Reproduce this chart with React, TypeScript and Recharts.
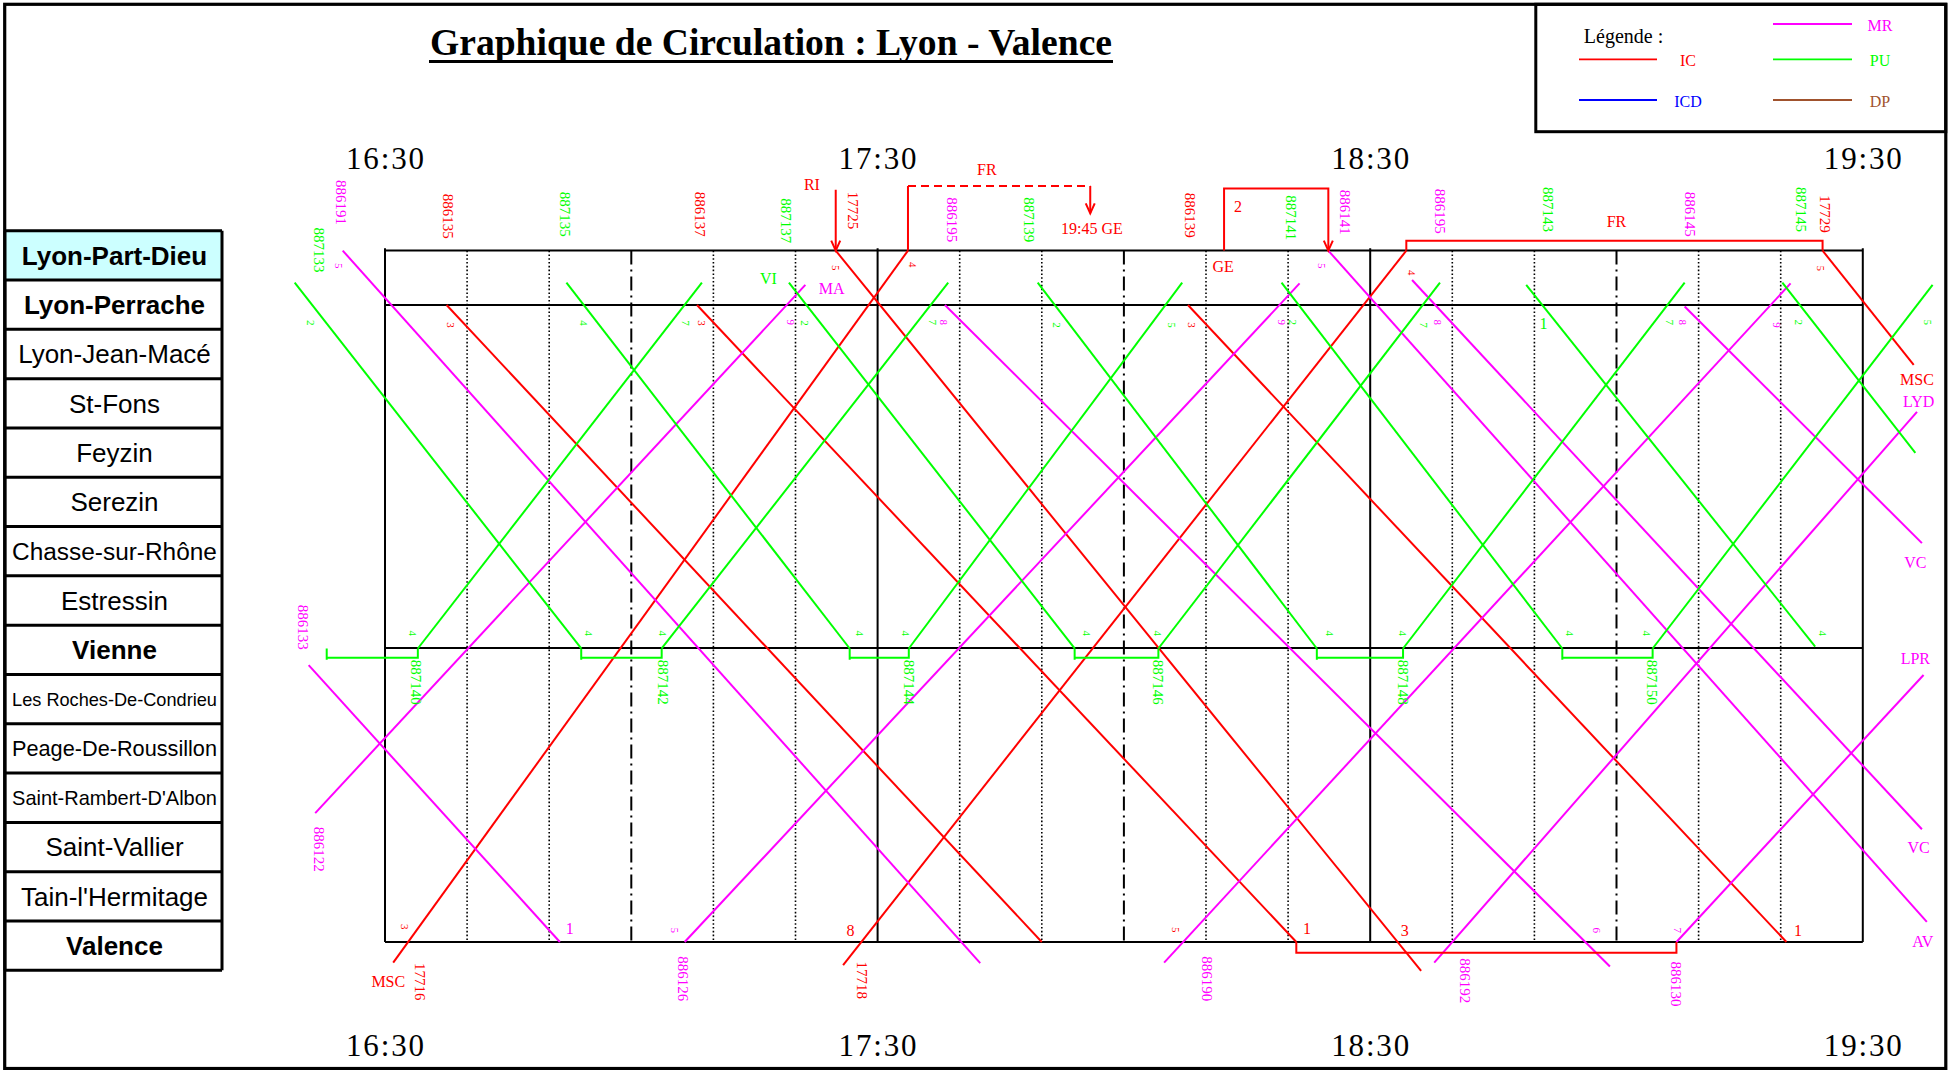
import React from 'react';
import { ComposedChart, Line, XAxis, YAxis, ReferenceLine, ReferenceDot } from 'recharts';

const W = 1952;
const H = 1070;

// ---------- stations ----------
const STATIONS = [
  'Lyon-Part-Dieu', 'Lyon-Perrache', 'Lyon-Jean-Macé', 'St-Fons', 'Feyzin', 'Serezin',
  'Chasse-sur-Rhône', 'Estressin', 'Vienne', 'Les Roches-De-Condrieu', 'Peage-De-Roussillon',
  "Saint-Rambert-D'Albon", 'Saint-Vallier', "Tain-l'Hermitage", 'Valence',
];
const MAIN_STATIONS = ['Lyon-Part-Dieu', 'Lyon-Perrache', 'Vienne', 'Valence'];
const STATION_POS = [-0.11, 1, 2, 3, 4, 5, 6, 7, 8, 9, 10, 11, 12, 13, 14];

// ---------- time axis (minutes since midnight) ----------
const T_START = 990; // 16:30
const T_END = 1170; // 19:30
const TIME_TICKS = [990, 1050, 1110, 1170];
const TIME_LABELS = ['16:30', '17:30', '18:30', '19:30'];
const GRID_DOTTED = [1000, 1010, 1030, 1040, 1060, 1070, 1090, 1100, 1120, 1130, 1150, 1160];
const GRID_HOURS = [1020, 1080, 1140];
const GRID_HALF = [1050, 1110];

// ---------- trains: [time, position] ----------
const IC_TRAINS: { num: string; path: number[][] }[] = [
  { num: '886135', path: [[997.5, 1], [1070.0, 14]] },
  { num: '886137', path: [[1028.0, 1], [1101.0, 14]] },
  { num: '17725', path: [[1044.9, -0.11], [1116.2, 14.59]] },
  { num: '886139', path: [[1087.8, 1], [1160.7, 14]] },
  { num: '17729', path: [[1165.1, -0.11], [1176.2, 2.22]] },
  { num: '17716', path: [[991.0, 14.42], [1053.7, -0.11]] },
  { num: '17718', path: [[1045.8, 14.47], [1114.4, -0.11]] },
];

const MR_TRAINS: { num: string; path: number[][] }[] = [
  { num: '886191', path: [[984.85, -0.11], [1062.5, 14.43]] },
  { num: '886133', path: [[980.7, 8.35], [1011.3, 14]] },
  { num: '886195', path: [[1058.2, 1], [1139.2, 14.5]] },
  { num: '886141', path: [[1104.9, -0.11], [1177.8, 13.59]] },
  { num: '886195', path: [[1115.1, 0.49], [1177.2, 11.7]] },
  { num: '886145', path: [[1148.3, 1.03], [1177.2, 5.86]] },
  { num: '886122', path: [[981.5, 11.37], [1041.2, 0.59]] },
  { num: '886126', path: [[1026.5, 14], [1101.4, 0.56]] },
  { num: '886190', path: [[1084.9, 14.42], [1161.2, 0.56]] },
  { num: '886192', path: [[1117.8, 14.42], [1176.6, 3.18]] },
  { num: '886130', path: [[1147.3, 14], [1177.4, 8.55]] },
];

const PU_TRAINS: { num: string; path: number[][] }[] = [
  { num: '887133', path: [[979.0, 0.545], [1013.9, 8.01]] },
  { num: '887135', path: [[1012.1, 0.545], [1046.6, 8.01]] },
  { num: '887137', path: [[1039.2, 0.545], [1074.0, 8.01]] },
  { num: '887139', path: [[1069.5, 0.545], [1103.5, 8.01]] },
  { num: '887141', path: [[1099.2, 0.545], [1133.4, 8.01]] },
  { num: '887143', path: [[1129.0, 0.59], [1164.2, 7.97]] },
  { num: '887145', path: [[1160.2, 0.545], [1176.4, 4.02]] },
  { num: '887140', path: [[994.0, 8.01], [1028.6, 0.545]] },
  { num: '887142', path: [[1023.7, 8.01], [1058.6, 0.545]] },
  { num: '887144', path: [[1053.8, 8.01], [1087.1, 0.545]] },
  { num: '887146', path: [[1084.2, 8.01], [1118.5, 0.545]] },
  { num: '887148', path: [[1114.0, 8.01], [1148.3, 0.545]] },
  { num: '887150', path: [[1144.4, 8.01], [1178.5, 0.59]] },
];

// turnarounds at Vienne (arrival, departure)
const PU_TURNS = [[982.9, 994.0], [1013.9, 1023.7], [1046.6, 1053.8], [1074.0, 1084.2], [1103.5, 1114.0], [1133.4, 1144.4]];
const PU_TURN_LEVEL = 8.2;

// IC connections / brackets
const IC_LINKS: number[][][] = [
  [[1044.9, -1.35], [1044.9, -0.11]],
  [[1053.7, -0.11], [1053.7, -1.43]],
  [[1075.9, -1.43], [1075.9, -0.87]],
  [[1092.2, -0.11], [1092.2, -1.38], [1104.9, -1.38], [1104.9, -0.11]],
  [[1114.4, -0.11], [1114.4, -0.31], [1165.1, -0.31], [1165.1, -0.11]],
  [[1101.0, 14], [1101.0, 14.22], [1147.3, 14.22], [1147.3, 14]],
];
const IC_LINKS_DASHED: number[][][] = [[[1053.7, -1.43], [1075.9, -1.43]]];
const ARROW_TIPS = [[1044.9, -0.11], [1075.9, -0.87], [1104.9, -0.11]];

// train numbers (vertical): [text, time, top position, category]
const TRAIN_NUMBER_LABELS: [string, number, number, string][] = [
  ['886191', 984.7, -1.55, 'MR'], ['887133', 982.0, -0.58, 'PU'], ['886135', 997.7, -1.27, 'IC'],
  ['887135', 1011.9, -1.31, 'PU'], ['886137', 1028.4, -1.31, 'IC'], ['887137', 1038.8, -1.18, 'PU'],
  ['17725', 1047.0, -1.31, 'IC'], ['886195', 1059.0, -1.2, 'MR'], ['887139', 1068.4, -1.2, 'PU'],
  ['886139', 1088.1, -1.29, 'IC'], ['887141', 1100.3, -1.24, 'PU'], ['886141', 1106.9, -1.35, 'MR'],
  ['886195', 1118.5, -1.37, 'MR'], ['887143', 1131.7, -1.41, 'PU'], ['886145', 1148.9, -1.31, 'MR'],
  ['887145', 1162.5, -1.41, 'PU'], ['17729', 1165.4, -1.24, 'IC'],
  ['886133', 980.0, 7.12, 'MR'], ['887140', 993.8, 8.24, 'PU'], ['887142', 1023.9, 8.24, 'PU'],
  ['887144', 1053.8, 8.24, 'PU'], ['887146', 1084.2, 8.24, 'PU'], ['887148', 1114.0, 8.24, 'PU'],
  ['887150', 1144.3, 8.24, 'PU'], ['886122', 982.0, 11.65, 'MR'], ['17716', 994.3, 14.43, 'IC'],
  ['886126', 1026.3, 14.29, 'MR'], ['17718', 1048.1, 14.4, 'IC'], ['886190', 1090.1, 14.29, 'MR'],
  ['886192', 1121.5, 14.33, 'MR'], ['886130', 1147.3, 14.4, 'MR'],
];

// horizontal tags: [text, time (centre), position (centre), category]
const TAGS: [string, number, number, string][] = [
  ['MSC', 990.4, 14.81, 'IC'], ['MSC', 1176.6, 2.53, 'IC'], ['LYD', 1176.8, 2.97, 'MR'],
  ['VC', 1176.4, 6.26, 'MR'], ['LPR', 1176.4, 8.22, 'MR'], ['VC', 1176.8, 12.08, 'MR'],
  ['AV', 1177.3, 13.98, 'MR'], ['VI', 1036.7, 0.46, 'PU'], ['MA', 1044.4, 0.67, 'MR'],
  ['RI', 1042.0, -1.45, 'IC'], ['FR', 1063.3, -1.76, 'IC'], ['19:45 GE', 1076.1, -0.57, 'IC'],
  ['2', 1093.9, -1.01, 'IC'], ['GE', 1092.1, 0.22, 'IC'], ['FR', 1140.0, -0.7, 'IC'],
  ['8', 1046.7, 13.76, 'IC'], ['1', 1102.3, 13.73, 'IC'], ['3', 1114.2, 13.76, 'IC'],
  ['1', 1162.1, 13.77, 'IC'], ['1', 1012.5, 13.73, 'MR'], ['1', 1131.1, 1.37, 'PU'],
];

// small platform digits (rotated): [text, time, position, category]
const TRACK_DIGITS: [string, number, number, string][] = [
  ['2', 981.0, 1.36, 'PU'], ['3', 998.0, 1.41, 'IC'], ['5', 984.4, 0.2, 'MR'],
  ['4', 1014.2, 1.37, 'PU'], ['7', 1026.7, 1.37, 'PU'], ['3', 1028.6, 1.37, 'IC'],
  ['9', 1039.5, 1.35, 'MR'], ['2', 1041.2, 1.37, 'PU'], ['5', 1044.9, 0.24, 'IC'],
  ['4', 1054.3, 0.18, 'IC'], ['7', 1056.7, 1.35, 'PU'], ['8', 1058.1, 1.35, 'MR'],
  ['2', 1071.8, 1.41, 'PU'], ['5', 1085.8, 1.41, 'PU'], ['3', 1088.3, 1.41, 'IC'],
  ['9', 1099.3, 1.35, 'MR'], ['2', 1100.6, 1.35, 'PU'], ['5', 1104.1, 0.2, 'MR'],
  ['4', 1115.1, 0.34, 'IC'], ['7', 1116.6, 1.41, 'PU'], ['8', 1118.3, 1.35, 'MR'],
  ['7', 1146.5, 1.35, 'PU'], ['8', 1148.1, 1.35, 'MR'], ['9', 1159.5, 1.41, 'MR'],
  ['2', 1162.2, 1.35, 'PU'], ['5', 1164.9, 0.25, 'IC'], ['5', 1177.9, 1.35, 'PU'],
  ['4', 993.4, 7.7, 'PU'], ['4', 1014.9, 7.7, 'PU'], ['4', 1023.8, 7.7, 'PU'], ['4', 1047.9, 7.7, 'PU'],
  ['4', 1053.4, 7.7, 'PU'], ['4', 1075.5, 7.7, 'PU'], ['4', 1084.2, 7.7, 'PU'], ['4', 1105.1, 7.7, 'PU'],
  ['4', 1114.0, 7.7, 'PU'], ['4', 1134.3, 7.7, 'PU'], ['4', 1143.7, 7.7, 'PU'], ['4', 1165.2, 7.7, 'PU'],
  ['3', 992.4, 13.69, 'IC'], ['5', 1025.3, 13.76, 'MR'], ['5', 1086.4, 13.75, 'IC'],
  ['6', 1137.6, 13.76, 'MR'], ['7', 1147.5, 13.76, 'MR'],
];

const LEGEND_ITEMS = [
  { key: 'IC', col: 0, row: 1 }, { key: 'ICD', col: 0, row: 2 },
  { key: 'MR', col: 1, row: 0 }, { key: 'PU', col: 1, row: 1 }, { key: 'DP', col: 1, row: 2 },
];

const COLORS: Record<string, string> = {
  IC: '#ff0000', ICD: '#0000ff', MR: '#ff00ff', PU: '#00ff00', DP: '#a0522d',
};

const SERIF = '"Liberation Serif", "Times New Roman", serif';
const SANS = '"Liberation Sans", Arial, sans-serif';

const toPts = (path: number[][]) => path.map(([t, y]) => ({ t, y }));

function fitFont(text: string, bold: boolean, max: number, width: number) {
  try {
    const ctx = document.createElement('canvas').getContext('2d');
    if (!ctx) return max;
    ctx.font = `${bold ? 'bold ' : ''}${max}px "Liberation Sans"`;
    const w = ctx.measureText(text).width;
    return w > width ? (max * width) / w : max;
  } catch (e) {
    return max;
  }
}

const TABLE_TOP = 230.7;
const ROW_H = 49.31;
const TABLE_L = 5;
const TABLE_R = 222;

function StaticLayer() {
  const legendX = [[1579, 1657], [1773, 1852]];
  const legendTextX = [1688, 1880];
  const legendRowY = [24, 59.3, 100];
  return (
    <svg width={W} height={H} style={{ position: 'absolute', left: 0, top: 0 }}>
      <rect x={0} y={0} width={W} height={H} fill="#fff" />
      <rect x={4.7} y={4.3} width={1941.1} height={1064.2} fill="none" stroke="#000" strokeWidth={3.2} />
      {/* title */}
      <text x={430} y={55} fontFamily={SERIF} fontWeight="bold" fontSize={37} textLength={682}
        lengthAdjust="spacingAndGlyphs" fill="#000">Graphique de Circulation : Lyon - Valence</text>
      <line x1={429} x2={1113} y1={61.5} y2={61.5} stroke="#000" strokeWidth={3} />
      {/* legend */}
      <rect x={1535.8} y={4.3} width={410} height={127.4} fill="none" stroke="#000" strokeWidth={3} />
      <text x={1623.5} y={43} textAnchor="middle" fontFamily={SERIF} fontSize={20} fill="#000">Légende :</text>
      {LEGEND_ITEMS.map((it) => (
        <g key={it.key}>
          <line x1={legendX[it.col][0]} x2={legendX[it.col][1]} y1={legendRowY[it.row]} y2={legendRowY[it.row]}
            stroke={COLORS[it.key]} strokeWidth={1.8} />
          <text x={legendTextX[it.col]} y={legendRowY[it.row] + 7} textAnchor="middle" fontFamily={SERIF}
            fontSize={16} fill={COLORS[it.key]}>{it.key}</text>
        </g>
      ))}
      {/* station table */}
      <rect x={TABLE_L} y={TABLE_TOP} width={TABLE_R - TABLE_L} height={ROW_H} fill="#ccffff" />
      {STATIONS.map((s, i) => {
        const bold = MAIN_STATIONS.includes(s);
        const fs = fitFont(s, bold, 26, 205);
        const cy = TABLE_TOP + (i + 0.5) * ROW_H;
        return (
          <text key={s} x={(TABLE_L + TABLE_R) / 2 + 1} y={cy + fs * 0.36} textAnchor="middle" fontFamily={SANS}
            fontWeight={bold ? 'bold' : 'normal'} fontSize={fs} fill="#000">{s}</text>
        );
      })}
      {STATIONS.map((s, i) => (
        <line key={'r' + i} x1={TABLE_L} x2={TABLE_R} y1={TABLE_TOP + i * ROW_H} y2={TABLE_TOP + i * ROW_H}
          stroke="#000" strokeWidth={3} />
      ))}
      <line x1={TABLE_L} x2={TABLE_R} y1={TABLE_TOP + 15 * ROW_H} y2={TABLE_TOP + 15 * ROW_H} stroke="#000" strokeWidth={3} />
      <line x1={TABLE_L} x2={TABLE_L} y1={TABLE_TOP} y2={TABLE_TOP + 15 * ROW_H} stroke="#000" strokeWidth={3} />
      <line x1={TABLE_R} x2={TABLE_R} y1={TABLE_TOP} y2={TABLE_TOP + 15 * ROW_H} stroke="#000" strokeWidth={3} />
    </svg>
  );
}

const vText = (txt: string, color: string, size: number, anchor: string) => (p: any) => (
  <text x={p.cx} y={p.cy} transform={`rotate(90 ${p.cx} ${p.cy})`} fill={color} fontSize={size}
    fontFamily={SERIF} textAnchor={anchor} dominantBaseline="central">{txt}</text>
);
const hText = (txt: string, color: string, size: number) => (p: any) => (
  <text x={p.cx} y={p.cy} fill={color} fontSize={size} fontFamily={SERIF} textAnchor="middle"
    dominantBaseline="central">{txt}</text>
);
const timeText = (txt: string) => (p: any) => (
  <text x={p.cx} y={p.cy} fill="#000" fontSize={31} fontFamily={SERIF} textAnchor="middle"
    dominantBaseline="central" textLength={78} lengthAdjust="spacing">{txt}</text>
);
const arrowHead = (p: any) => (
  <path d={`M ${p.cx - 4.5} ${p.cy - 10} L ${p.cx} ${p.cy} L ${p.cx + 4.5} ${p.cy - 10}`} fill="none"
    stroke={COLORS.IC} strokeWidth={2} />
);

export default function App() {
  const trains = [
    ...IC_TRAINS.map((t) => ({ ...t, cat: 'IC' })),
    ...MR_TRAINS.map((t) => ({ ...t, cat: 'MR' })),
    ...PU_TRAINS.map((t) => ({ ...t, cat: 'PU' })),
  ];
  const top = STATION_POS[0];
  const bottom = STATION_POS[STATION_POS.length - 1];
  const ruled = MAIN_STATIONS.map((s) => STATION_POS[STATIONS.indexOf(s)]);
  return (
    <div style={{ position: 'absolute', left: 0, top: 0, width: W, height: H, overflow: 'hidden', background: '#fff' }}>
      <StaticLayer />
      <div style={{ position: 'absolute', left: 0, top: 0 }}>
        <ComposedChart width={W} height={H} margin={{ top: 11, right: 7.1, bottom: 5.5, left: 138.7 }}>
          <XAxis type="number" dataKey="t" domain={[960, 1180]} allowDataOverflow hide />
          <YAxis type="number" dataKey="y" domain={[-5, 16.5]} reversed allowDataOverflow hide />

          {GRID_DOTTED.map((t) => (
            <ReferenceLine key={'gd' + t} segment={[{ x: t, y: top }, { x: t, y: bottom }]} stroke="#000"
              strokeWidth={1.6} strokeDasharray="1.6 2.2" ifOverflow="visible" />
          ))}
          {GRID_HOURS.map((t) => (
            <ReferenceLine key={'gh' + t} segment={[{ x: t, y: top }, { x: t, y: bottom }]} stroke="#000"
              strokeWidth={2} strokeDasharray="14 5 2 5" ifOverflow="visible" />
          ))}
          {[...GRID_HALF, T_START, T_END].map((t) => (
            <ReferenceLine key={'gs' + t} segment={[{ x: t, y: top - 0.05 }, { x: t, y: bottom }]} stroke="#000"
              strokeWidth={2} ifOverflow="visible" />
          ))}
          {ruled.map((v) => (
            <ReferenceLine key={'st' + v} segment={[{ x: T_START, y: v }, { x: T_END, y: v }]} stroke="#000"
              strokeWidth={2} ifOverflow="visible" />
          ))}

          {trains.map((tr, i) => (
            <Line key={'tr' + i} data={toPts(tr.path)} dataKey="y" type="linear" stroke={COLORS[tr.cat]}
              strokeWidth={2} dot={false} activeDot={false} isAnimationActive={false} legendType="none" />
          ))}
          {PU_TURNS.map(([a, b], i) => (
            <Line key={'pt' + i} data={toPts([[a, 8.01], [a, PU_TURN_LEVEL + 0.04], [a, PU_TURN_LEVEL], [b, PU_TURN_LEVEL], [b, 8.01]])}
              dataKey="y" type="linear" stroke={COLORS.PU} strokeWidth={2} dot={false} activeDot={false}
              isAnimationActive={false} legendType="none" />
          ))}
          {IC_LINKS.map((p, i) => (
            <Line key={'il' + i} data={toPts(p)} dataKey="y" type="linear" stroke={COLORS.IC} strokeWidth={2}
              dot={false} activeDot={false} isAnimationActive={false} legendType="none" />
          ))}
          {IC_LINKS_DASHED.map((p, i) => (
            <Line key={'id' + i} data={toPts(p)} dataKey="y" type="linear" stroke={COLORS.IC} strokeWidth={2}
              strokeDasharray="8 5" dot={false} activeDot={false} isAnimationActive={false} legendType="none" />
          ))}
          {ARROW_TIPS.map(([t, v], i) => (
            <ReferenceDot key={'ar' + i} x={t} y={v} r={0} ifOverflow="visible" shape={arrowHead} />
          ))}

          {TIME_TICKS.map((t, i) => (
            <ReferenceDot key={'tt' + i} x={t} y={-2.0} r={0} ifOverflow="visible" shape={timeText(TIME_LABELS[i])} />
          ))}
          {TIME_TICKS.map((t, i) => (
            <ReferenceDot key={'tb' + i} x={t} y={16.12} r={0} ifOverflow="visible" shape={timeText(TIME_LABELS[i])} />
          ))}
          {TRAIN_NUMBER_LABELS.map(([txt, t, v, c], i) => (
            <ReferenceDot key={'tn' + i} x={t} y={v} r={0} ifOverflow="visible" shape={vText(txt, COLORS[c], 15, 'start')} />
          ))}
          {TAGS.map(([txt, t, v, c], i) => (
            <ReferenceDot key={'tg' + i} x={t} y={v} r={0} ifOverflow="visible" shape={hText(txt, COLORS[c], 16)} />
          ))}
          {TRACK_DIGITS.map(([txt, t, v, c], i) => (
            <ReferenceDot key={'td' + i} x={t} y={v} r={0} ifOverflow="visible" shape={vText(txt, COLORS[c], 11, 'middle')} />
          ))}
        </ComposedChart>
      </div>
    </div>
  );
}
